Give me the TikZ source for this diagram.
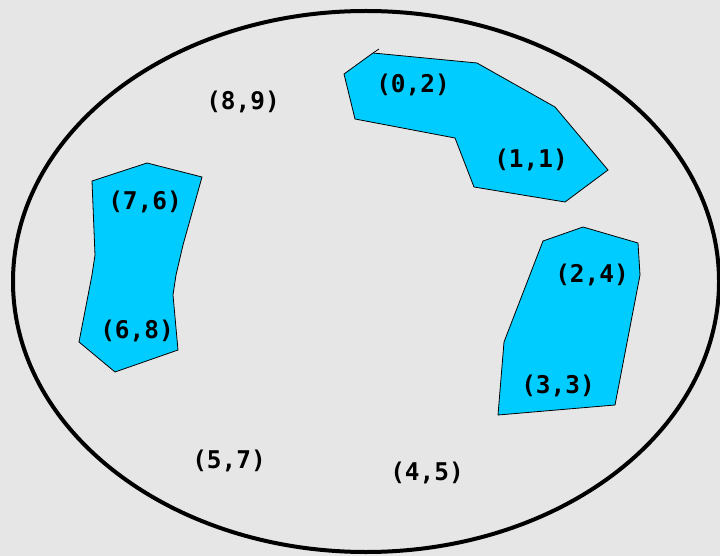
\documentclass[tikz,border=0pt]{standalone}
\usepackage{fontspec}
\setmonofont{DejaVu Sans Mono}
\definecolor{bg}{RGB}{230,230,230}
\definecolor{regionfill}{RGB}{0,204,255}
\begin{document}
\begin{tikzpicture}[x=1bp,y=-1bp,
  region/.style={fill=regionfill,draw=black,line width=0.8bp,line join=miter},
  lbl/.style={font=\ttfamily\bfseries\fontsize{24.5}{26}\selectfont,inner sep=0pt,text=black}]
\fill[bg] (0,0) rectangle (720,556);
\useasboundingbox (0,0) rectangle (720,556);
\draw[line width=4bp] (366,281.5) ellipse [x radius=353, y radius=270.5];
% region with (0,2),(1,1)
\draw[region] (373,53) -- (477,63) -- (555,107) -- (608,170) -- (565,202) -- (474,187) -- (455,138) -- (355,119) -- (344,74) -- cycle;
\draw[line width=0.8bp] (373,53) -- (379,49);
% region with (7,6),(6,8)
\draw[region] (92,181) -- (147,163) -- (202,177) -- (183,245) -- (176,275) -- (173,295) -- (178,350) -- (115,372) -- (79,342) -- (92,275) -- (95,255) -- cycle;
% region with (2,4),(3,3)
\draw[region] (543,241) -- (583,227) -- (638,243) -- (640,275) -- (615,405) -- (498,415) -- (504,342) -- cycle;
\node[lbl] (n02) at (413,85) {(0,2)};
\node[lbl] (n11) at (531,160) {(1,1)};
\node[lbl] (n89) at (243,102) {(8,9)};
\node[lbl] (n76) at (145,202) {(7,6)};
\node[lbl] (n68) at (137,331) {(6,8)};
\node[lbl] (n24) at (592,275) {(2,4)};
\node[lbl] (n33) at (558,386) {(3,3)};
\node[lbl] (n57) at (229,461) {(5,7)};
\node[lbl] (n45) at (427,473) {(4,5)};
\end{tikzpicture}
\end{document}
